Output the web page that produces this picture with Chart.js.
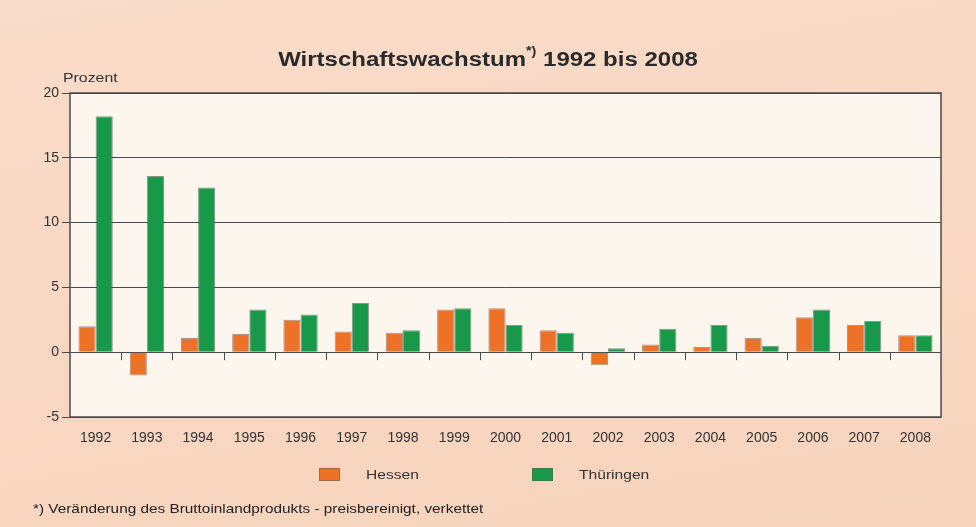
<!DOCTYPE html>
<html>
<head>
<meta charset="utf-8">
<script src="https://cdn.jsdelivr.net/npm/chart.js@4"></script>
<style>
    body { margin: 0; background: #f8d6c0; font-family: "Liberation Sans", Arial, sans-serif; color: #222; }
    #wrap { position: relative; width: 976px; height: 527px; overflow: hidden;
            background: linear-gradient(170deg, #f9dcc9 0%, #f8d7c2 50%, #f7d3bc 100%); }
    #title { position: absolute; left: 0; width: 976px; top: 47px; text-align: center;
             font-size: 20px; font-weight: bold; color: #2a2a2a; transform: scaleX(1.2); }
    #title sup { font-size: 12px; position: relative; top: -3px; }
    #unit { position: absolute; left: 63px; top: 70px; font-size: 13px; color: #333;
            transform: scaleX(1.22); transform-origin: left; }
    .legendBox { position: absolute; width: 21px; height: 13px; box-sizing: border-box; border: 1px solid rgba(90,90,90,0.5); }
    .legendText { position: absolute; font-size: 13px; color: #333; transform: scaleX(1.2); transform-origin: left; }
    #note { position: absolute; left: 33px; top: 501px; font-size: 13px; color: #222;
            transform: scaleX(1.18); transform-origin: left; white-space: nowrap; }
    canvas { position: absolute; left: 0; top: 0; }
</style>
</head>
<body>
<div id="wrap">
    <canvas id="myChart" width="976" height="527"></canvas>
    <div id="title">Wirtschaftswachstum<sup>*)</sup> 1992 bis 2008</div>
    <div id="unit">Prozent</div>
    <div class="legendBox" style="left:319px; top:468px; background:#ee7128;"></div>
    <div class="legendText" style="left:366px; top:467px;">Hessen</div>
    <div class="legendBox" style="left:532px; top:468px; background:#18994a;"></div>
    <div class="legendText" style="left:579px; top:467px;">Thüringen</div>
    <div id="note">*) Veränderung des Bruttoinlandprodukts - preisbereinigt, verkettet</div>
</div>
<script>
    // Data (percent)
    let years = ['1992', '1993', '1994', '1995', '1996', '1997', '1998', '1999', '2000',
                 '2001', '2002', '2003', '2004', '2005', '2006', '2007', '2008']
    let hessen = [2.0, -1.8, 1.1, 1.4, 2.5, 1.6, 1.5, 3.3, 3.4, 1.7, -1.0, 0.6, 0.4, 1.1, 2.7, 2.1, 1.3]
    let thueringen = [18.2, 13.6, 12.7, 3.3, 2.9, 3.8, 1.7, 3.4, 2.1, 1.5, 0.3, 1.8, 2.1, 0.5, 3.3, 2.4, 1.3]
    let yTicks = [-5, 0, 5, 10, 15, 20]

    let axisColor = '#4a4a4a'

    // Plot background, frame and small ticks on the zero line
    const plotFrame = {
        id: 'plotFrame',
        beforeDraw(chart) {
            let a = chart.chartArea
            let ctx = chart.ctx
            ctx.save()
            ctx.fillStyle = '#fdf6ef'
            ctx.fillRect(a.left, a.top, a.right - a.left, a.bottom - a.top)
            ctx.restore()
        },
        afterDatasetsDraw(chart) {
            let a = chart.chartArea
            let ctx = chart.ctx
            let x = chart.scales.x
            let y0 = chart.scales.y.getPixelForValue(0)
            ctx.save()
            ctx.strokeStyle = axisColor
            ctx.lineWidth = 1.5
            ctx.strokeRect(a.left, a.top, a.right - a.left, a.bottom - a.top)
            ctx.lineWidth = 1
            ctx.beginPath()
            for (let i = 0; i < years.length - 1; i++) {
                let bx = Math.round((x.getPixelForValue(i) + x.getPixelForValue(i + 1)) / 2) + 0.5
                ctx.moveTo(bx, y0)
                ctx.lineTo(bx, y0 + 8)
            }
            ctx.stroke()
            ctx.restore()
        }
    }

    const ctx = document.getElementById('myChart').getContext('2d')
    const myChart = new Chart(ctx, {
        type: 'bar',
        data: {
            labels: years,
            datasets: [{
                label: 'Hessen',
                data: hessen,
                backgroundColor: '#ee7128',
                borderColor: 'rgba(110,70,50,0.55)',
                borderWidth: 1
            }, {
                label: 'Thüringen',
                data: thueringen,
                backgroundColor: '#18994a',
                borderColor: 'rgba(40,70,50,0.55)',
                borderWidth: 1
            }]
        },
        options: {
            responsive: false,
            animation: false,
            layout: { padding: { top: 93, right: 35, left: 0, bottom: 0 } },
            categoryPercentage: 0.67,
            barPercentage: 1.0,
            plugins: {
                legend: { display: false },
                tooltip: { enabled: false }
            },
            scales: {
                x: {
                    afterFit(scale) { scale.height = 110 },
                    grid: { display: false, drawTicks: false },
                    border: { display: false },
                    ticks: {
                        padding: 13,
                        color: '#333',
                        font: { family: 'Liberation Sans', size: 14 }
                    }
                },
                y: {
                    min: -5,
                    max: 20,
                    afterFit(scale) { scale.width = 70 },
                    afterBuildTicks(scale) { scale.ticks = yTicks.map(v => ({ value: v })) },
                    grid: { color: axisColor, lineWidth: 1, tickLength: 8 },
                    border: { display: false },
                    ticks: {
                        padding: 3,
                        color: '#333',
                        font: { family: 'Liberation Sans', size: 14 }
                    }
                }
            }
        },
        plugins: [plotFrame]
    })
</script>
</body>
</html>
